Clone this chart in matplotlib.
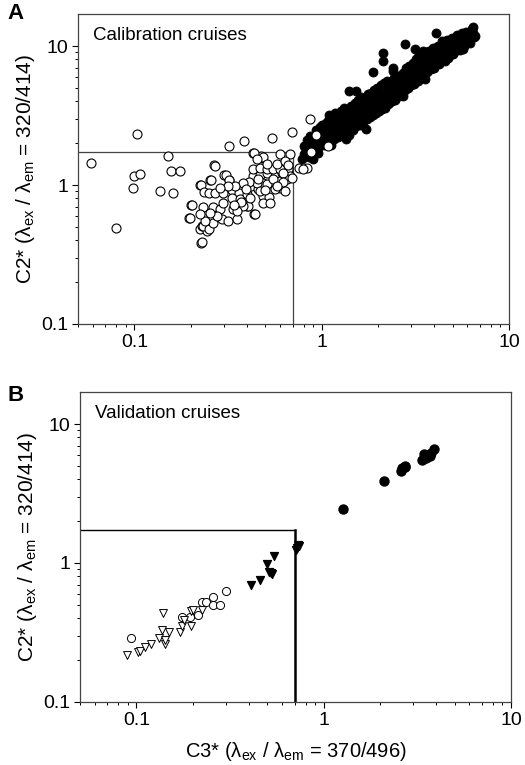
"""
C2* vs C3* fluorescence components, calibration and validation cruises.
Two stacked log-log panels with threshold box (C3* < 0.7, C2* < 1.72).
"""

import matplotlib
matplotlib.use("Agg")
import matplotlib.pyplot as plt
from matplotlib.ticker import LogLocator, NullFormatter, FixedFormatter, FixedLocator

plt.rcParams['font.family'] = ['Liberation Sans', 'DejaVu Sans']
plt.rcParams['mathtext.fontset'] = 'custom'
plt.rcParams['mathtext.rm'] = 'Liberation Sans'
plt.rcParams['mathtext.it'] = 'Liberation Sans:italic'

# --- Panel A: calibration cruises -------------------------------------------
# open circles (below threshold)
cal_open_x = [0.0586, 0.080, 0.103, 0.098, 0.100, 0.107, 0.137, 0.151, 0.157, 0.160,
              0.176, 0.196, 0.201, 0.224, 0.227, 0.230, 0.253, 0.267, 0.318, 0.386,
              0.546, 0.695, 0.866, 0.930, 1.076, 0.880, 0.760, 0.830, 0.790, 0.302,
              0.318, 0.428, 0.473, 0.435, 0.397, 0.223, 0.229, 0.243,
              0.433, 0.483, 0.598, 0.675, 0.269, 0.307, 0.321, 0.256, 0.226, 0.236,
              0.204, 0.198, 0.231, 0.249, 0.268, 0.298, 0.330, 0.363, 0.264, 0.233,
              0.249, 0.264, 0.292, 0.317, 0.351, 0.334, 0.287, 0.298, 0.330, 0.367,
              0.397, 0.405, 0.443, 0.421, 0.458, 0.487, 0.524, 0.487, 0.528, 0.431,
              0.467, 0.512, 0.562, 0.610, 0.662, 0.675, 0.428, 0.467, 0.508, 0.551,
              0.598, 0.487, 0.540, 0.598, 0.649, 0.449, 0.410, 0.381, 0.345, 0.317,
              0.287, 0.381, 0.351, 0.275, 0.253, 0.238, 0.224, 0.452, 0.512, 0.574,
              0.635, 0.467, 0.508, 0.551, 0.622, 0.600, 0.560, 0.620, 0.690, 0.660,
              0.370, 0.340, 0.395, 0.415, 0.500, 0.455, 0.575, 0.640]
cal_open_y = [1.43, 0.49, 2.31, 0.95, 1.16, 1.20, 0.90, 1.62, 1.26, 0.88,
              1.27, 0.58, 0.72, 1.00, 0.38, 0.39, 1.08, 1.39, 1.90, 2.06,
              2.17, 2.41, 2.99, 2.29, 1.90, 1.73, 1.32, 1.33, 1.30, 1.19,
              1.08, 1.71, 1.62, 0.62, 0.71, 0.48, 0.51, 0.47,
              1.71, 1.60, 1.67, 1.67, 1.38, 1.19, 1.09, 1.09, 0.995, 0.895,
              0.714, 0.58, 0.70, 0.87, 0.87, 0.87, 0.92, 0.87, 0.70, 0.51,
              0.48, 0.535, 0.565, 0.55, 0.565, 0.676, 0.668, 0.746, 0.81, 0.79,
              0.857, 0.706, 0.615, 0.985, 0.93, 0.833, 0.825, 0.746, 0.746, 1.16,
              1.19, 1.23, 1.16, 1.23, 1.30, 1.16, 1.31, 1.33, 1.31, 1.31,
              1.31, 1.04, 1.04, 1.07, 1.10, 1.04, 1.05, 1.04, 0.985, 0.985,
              0.958, 0.706, 0.65, 0.598, 0.632, 0.55, 0.615, 1.53, 1.41, 1.41,
              1.49, 0.905, 1.01, 1.10, 1.23, 0.95, 0.93, 1.05, 1.12, 1.40,
              0.76, 0.72, 0.93, 0.80, 0.92, 1.10, 0.98, 0.90]

# filled circles (above threshold)
cal_fill_x = [0.78, 0.80, 0.80, 0.82, 0.85, 0.85, 0.88, 0.90, 0.90, 0.92,
              0.95, 0.95, 0.97, 1.00, 1.00, 1.00, 1.02, 1.05, 1.05, 1.08,
              1.08, 1.10, 1.10, 1.12, 1.15, 1.15, 1.18, 1.20, 1.20, 1.22,
              1.25, 1.25, 1.28, 1.30, 1.30, 1.33, 1.35, 1.35, 1.38, 1.39,
              1.40, 1.42, 1.45, 1.45, 1.48, 1.50, 1.52, 1.52, 1.55, 1.55,
              1.58, 1.60, 1.62, 1.65, 1.65, 1.68, 1.70, 1.73, 1.72, 1.75,
              1.78, 1.80, 1.82, 1.85, 1.85, 1.88, 1.90, 1.92, 1.95, 1.98,
              2.00, 2.02, 2.05, 2.08, 2.12, 2.12, 2.10, 2.15, 2.20, 2.20,
              2.25, 2.25, 2.30, 2.35, 2.40, 2.40, 2.38, 2.45, 2.50, 2.50,
              2.55, 2.60, 2.65, 2.70, 2.70, 2.75, 2.79, 2.80, 2.85, 2.90,
              2.90, 2.95, 3.00, 3.00, 3.05, 3.10, 3.13, 3.15, 3.20, 3.20,
              3.30, 3.30, 3.35, 3.40, 3.46, 3.45, 3.50, 3.54, 3.55, 3.60,
              3.60, 3.70, 3.70, 3.80, 3.85, 3.90, 3.95, 4.00, 4.05, 4.05,
              4.10, 4.20, 4.20, 4.30, 4.35, 4.40, 4.50, 4.50, 4.60, 4.70,
              4.75, 4.80, 4.90, 5.00, 5.00, 5.10, 5.20, 5.20, 5.30, 5.40,
              5.50, 5.60, 5.66, 5.70, 5.80, 5.90, 5.90, 6.00, 6.10, 6.20,
              6.30, 6.43, 6.50, 6.40, 0.48, 1.00, 1.10, 1.30, 1.60, 1.40,
              0.83, 0.87, 0.93, 0.96, 0.98, 1.03, 1.06, 1.10, 1.12, 1.16,
              1.18, 1.22, 1.26, 1.28, 1.32, 1.36, 1.40, 1.43, 1.47, 1.50,
              1.53, 1.57, 1.60, 1.63, 1.67, 1.70, 1.74, 1.77, 1.80, 1.84,
              1.87, 1.90, 1.94, 1.97, 2.03, 2.06, 2.10, 2.14, 2.18, 2.22,
              2.28, 2.32, 2.36, 2.42, 2.47, 2.53, 2.58, 2.63, 2.68, 2.73,
              2.78, 2.83, 2.88, 2.93, 2.98, 3.08, 3.12, 3.18, 3.25, 3.28,
              3.38, 3.42, 3.50, 3.58, 3.65, 3.75, 3.82, 3.92, 4.00, 4.15,
              4.25, 4.40, 4.55, 4.65, 4.85, 4.95, 5.10, 5.30, 5.45, 5.60,
              5.75, 6.00, 6.20, 6.35, 6.45, 6.55]
cal_fill_y = [1.55, 1.66, 1.90, 1.75, 1.60, 1.95, 1.80, 1.53, 2.05, 1.90,
              2.10, 1.85, 2.30, 2.00, 2.20, 2.45, 2.60, 2.10, 2.35, 2.50,
              2.90, 2.20, 2.70, 2.40, 2.60, 2.30, 2.80, 2.50, 3.00, 2.65,
              2.40, 2.90, 2.70, 3.10, 2.50, 2.85, 2.14, 3.00, 2.70, 4.76,
              3.30, 2.90, 3.10, 2.60, 3.40, 2.80, 4.76, 3.00, 3.30, 3.60,
              2.90, 3.20, 3.50, 3.00, 3.80, 3.30, 3.60, 2.52, 3.10, 3.90,
              3.40, 3.70, 4.20, 3.30, 3.90, 6.50, 3.60, 4.10, 3.40, 4.40,
              3.80, 4.00, 3.60, 4.50, 8.90, 7.83, 4.20, 3.90, 4.60, 4.10,
              5.00, 3.80, 4.40, 4.80, 7.00, 6.60, 4.20, 5.20, 4.60, 4.30,
              5.50, 4.90, 5.20, 4.38, 5.80, 5.00, 10.4, 6.20, 5.40, 6.60,
              5.10, 6.00, 5.60, 7.00, 6.30, 5.40, 9.50, 6.70, 7.40, 6.00,
              6.50, 7.90, 7.00, 6.20, 9.20, 8.30, 7.30, 5.78, 6.60, 7.80,
              9.00, 8.50, 7.00, 7.60, 8.90, 8.20, 7.20, 9.40, 12.4, 8.00,
              8.70, 10.0, 7.60, 9.00, 8.20, 9.60, 10.4, 8.60, 9.20, 10.0,
              8.20, 10.8, 9.40, 10.2, 8.80, 11.0, 11.2, 9.60, 10.4, 11.6,
              10.0, 11.0, 9.50, 12.0, 10.6, 12.6, 11.4, 10.8, 12.2, 11.6,
              12.8, 13.8, 11.6, 12.4, 1.57, 2.70, 3.00, 3.30, 2.70, 2.30,
              2.10, 2.25, 2.50, 1.70, 2.60, 1.95, 2.80, 3.20, 1.95, 2.15,
              3.30, 2.20, 3.40, 2.30, 3.60, 2.40, 2.45, 3.70, 2.50, 3.90,
              2.65, 4.10, 2.75, 4.30, 2.85, 4.00, 3.00, 4.50, 3.10, 4.60,
              3.20, 4.80, 3.30, 5.00, 3.40, 5.20, 3.50, 5.40, 3.60, 5.60,
              3.90, 5.30, 4.00, 5.90, 4.10, 6.10, 4.40, 6.00, 4.60, 6.40,
              4.80, 6.90, 5.00, 7.20, 5.20, 7.60, 5.30, 8.00, 5.60, 8.40,
              5.90, 8.60, 6.30, 8.10, 6.50, 9.20, 6.80, 9.60, 7.00, 9.80,
              7.40, 10.8, 7.80, 11.0, 8.60, 11.4, 9.00, 12.0, 9.40, 12.4,
              10.0, 12.0, 10.6, 13.2, 12.0, 11.8]

# --- Panel B: validation cruises --------------------------------------------
val_fill_x = [1.26, 2.09, 2.58, 2.70, 2.72, 2.62, 3.34, 3.43, 3.52, 3.74, 3.86, 3.70]
val_fill_y = [2.44, 3.90, 4.60, 4.87, 5.00, 4.80, 5.50, 6.07, 5.65, 6.20, 6.60, 5.90]

val_tri_fill_x = [0.72, 0.74, 0.71, 0.73, 0.54, 0.50, 0.52, 0.53, 0.51, 0.455, 0.41]
val_tri_fill_y = [1.28, 1.32, 1.25, 1.35, 1.12, 0.99, 0.85, 0.84, 0.86, 0.76, 0.69]

val_open_x = [0.094, 0.176, 0.193, 0.212, 0.223, 0.234, 0.257, 0.256, 0.280, 0.300]
val_open_y = [0.29, 0.41, 0.41, 0.42, 0.52, 0.52, 0.57, 0.50, 0.50, 0.63]

val_tri_open_x = [0.0895, 0.102, 0.104, 0.111, 0.120, 0.132, 0.137, 0.139, 0.142,
                  0.143, 0.150, 0.171, 0.175, 0.195, 0.195, 0.180, 0.200, 0.223]
val_tri_open_y = [0.216, 0.229, 0.232, 0.248, 0.263, 0.290, 0.330, 0.436, 0.263,
                  0.280, 0.320, 0.320, 0.350, 0.350, 0.455, 0.390, 0.460, 0.460]

# threshold box
c3_cut = 0.7
c2_cut = 1.72

XLIM = (0.05, 10)
YLIM = (0.1, 17)

ylab = 'C2* (λ$_{\\rm ex}$ / λ$_{\\rm em}$ = 320/414)'
xlab = 'C3* (λ$_{\\rm ex}$ / λ$_{\\rm em}$ = 370/496)'


def style_axes(ax):
    ax.set_xscale('log')
    ax.set_yscale('log')
    ax.set_xlim(*XLIM)
    ax.set_ylim(*YLIM)
    ax.xaxis.set_major_locator(FixedLocator([0.1, 1, 10]))
    ax.xaxis.set_major_formatter(FixedFormatter(['0.1', '1', '10']))
    ax.yaxis.set_major_locator(FixedLocator([0.1, 1, 10]))
    ax.yaxis.set_major_formatter(FixedFormatter(['0.1', '1', '10']))
    ax.xaxis.set_minor_locator(LogLocator(base=10, subs=range(2, 10)))
    ax.yaxis.set_minor_locator(LogLocator(base=10, subs=range(2, 10)))
    ax.xaxis.set_minor_formatter(NullFormatter())
    ax.yaxis.set_minor_formatter(NullFormatter())
    ax.tick_params(which='major', direction='out', length=4, width=0.8,
                   labelsize=14, colors='black', pad=3)
    ax.tick_params(which='minor', direction='out', length=2.2, width=0.7)
    for sp in ax.spines.values():
        sp.set_color('#444444')
        sp.set_linewidth(0.9)
    ax.set_ylabel(ylab, fontsize=15, labelpad=3)


fig = plt.figure(figsize=(5.25, 7.65), dpi=100)
axA = fig.add_axes([0.1486, 0.5765, 0.821, 0.4052])
axB = fig.add_axes([0.1524, 0.0824, 0.821, 0.4052])

# Panel A
axA.plot([XLIM[0], c3_cut], [c2_cut, c2_cut], color='#444444', lw=0.9, zorder=1)
axA.plot([c3_cut, c3_cut], [YLIM[0], c2_cut], color='#444444', lw=0.9, zorder=1)
axA.scatter(cal_fill_x, cal_fill_y, s=42, c='black', edgecolors='black',
            linewidths=0.6, zorder=2)
axA.scatter(cal_open_x, cal_open_y, s=42, c='white', edgecolors='black',
            linewidths=0.8, zorder=3)
style_axes(axA)
axA.text(0.035, 0.93, 'Calibration cruises', transform=axA.transAxes,
         fontsize=13.5, va='center', ha='left')

# Panel B
axB.plot([XLIM[0], c3_cut], [c2_cut, c2_cut], color='black', lw=1.0, zorder=1)
axB.plot([c3_cut, c3_cut], [YLIM[0], c2_cut], color='black', lw=1.8, zorder=1)
axB.scatter(val_fill_x, val_fill_y, s=42, c='black', edgecolors='black', zorder=3)
axB.scatter(val_tri_fill_x, val_tri_fill_y, s=32, marker='v', c='black',
            edgecolors='black', zorder=3)
axB.scatter(val_open_x, val_open_y, s=34, c='white', edgecolors='black',
            linewidths=0.7, zorder=3)
axB.scatter(val_tri_open_x, val_tri_open_y, s=32, marker='v', c='white',
            edgecolors='black', linewidths=0.7, zorder=3)
style_axes(axB)
axB.set_xlabel(xlab, fontsize=14.5, labelpad=8)
axB.text(0.035, 0.93, 'Validation cruises', transform=axB.transAxes,
         fontsize=13.5, va='center', ha='left')

fig.text(0.015, 0.982, 'A', fontsize=16, fontweight='bold', va='center', ha='left')
fig.text(0.015, 0.483, 'B', fontsize=16, fontweight='bold', va='center', ha='left')

fig.savefig('out.png', dpi=100)
